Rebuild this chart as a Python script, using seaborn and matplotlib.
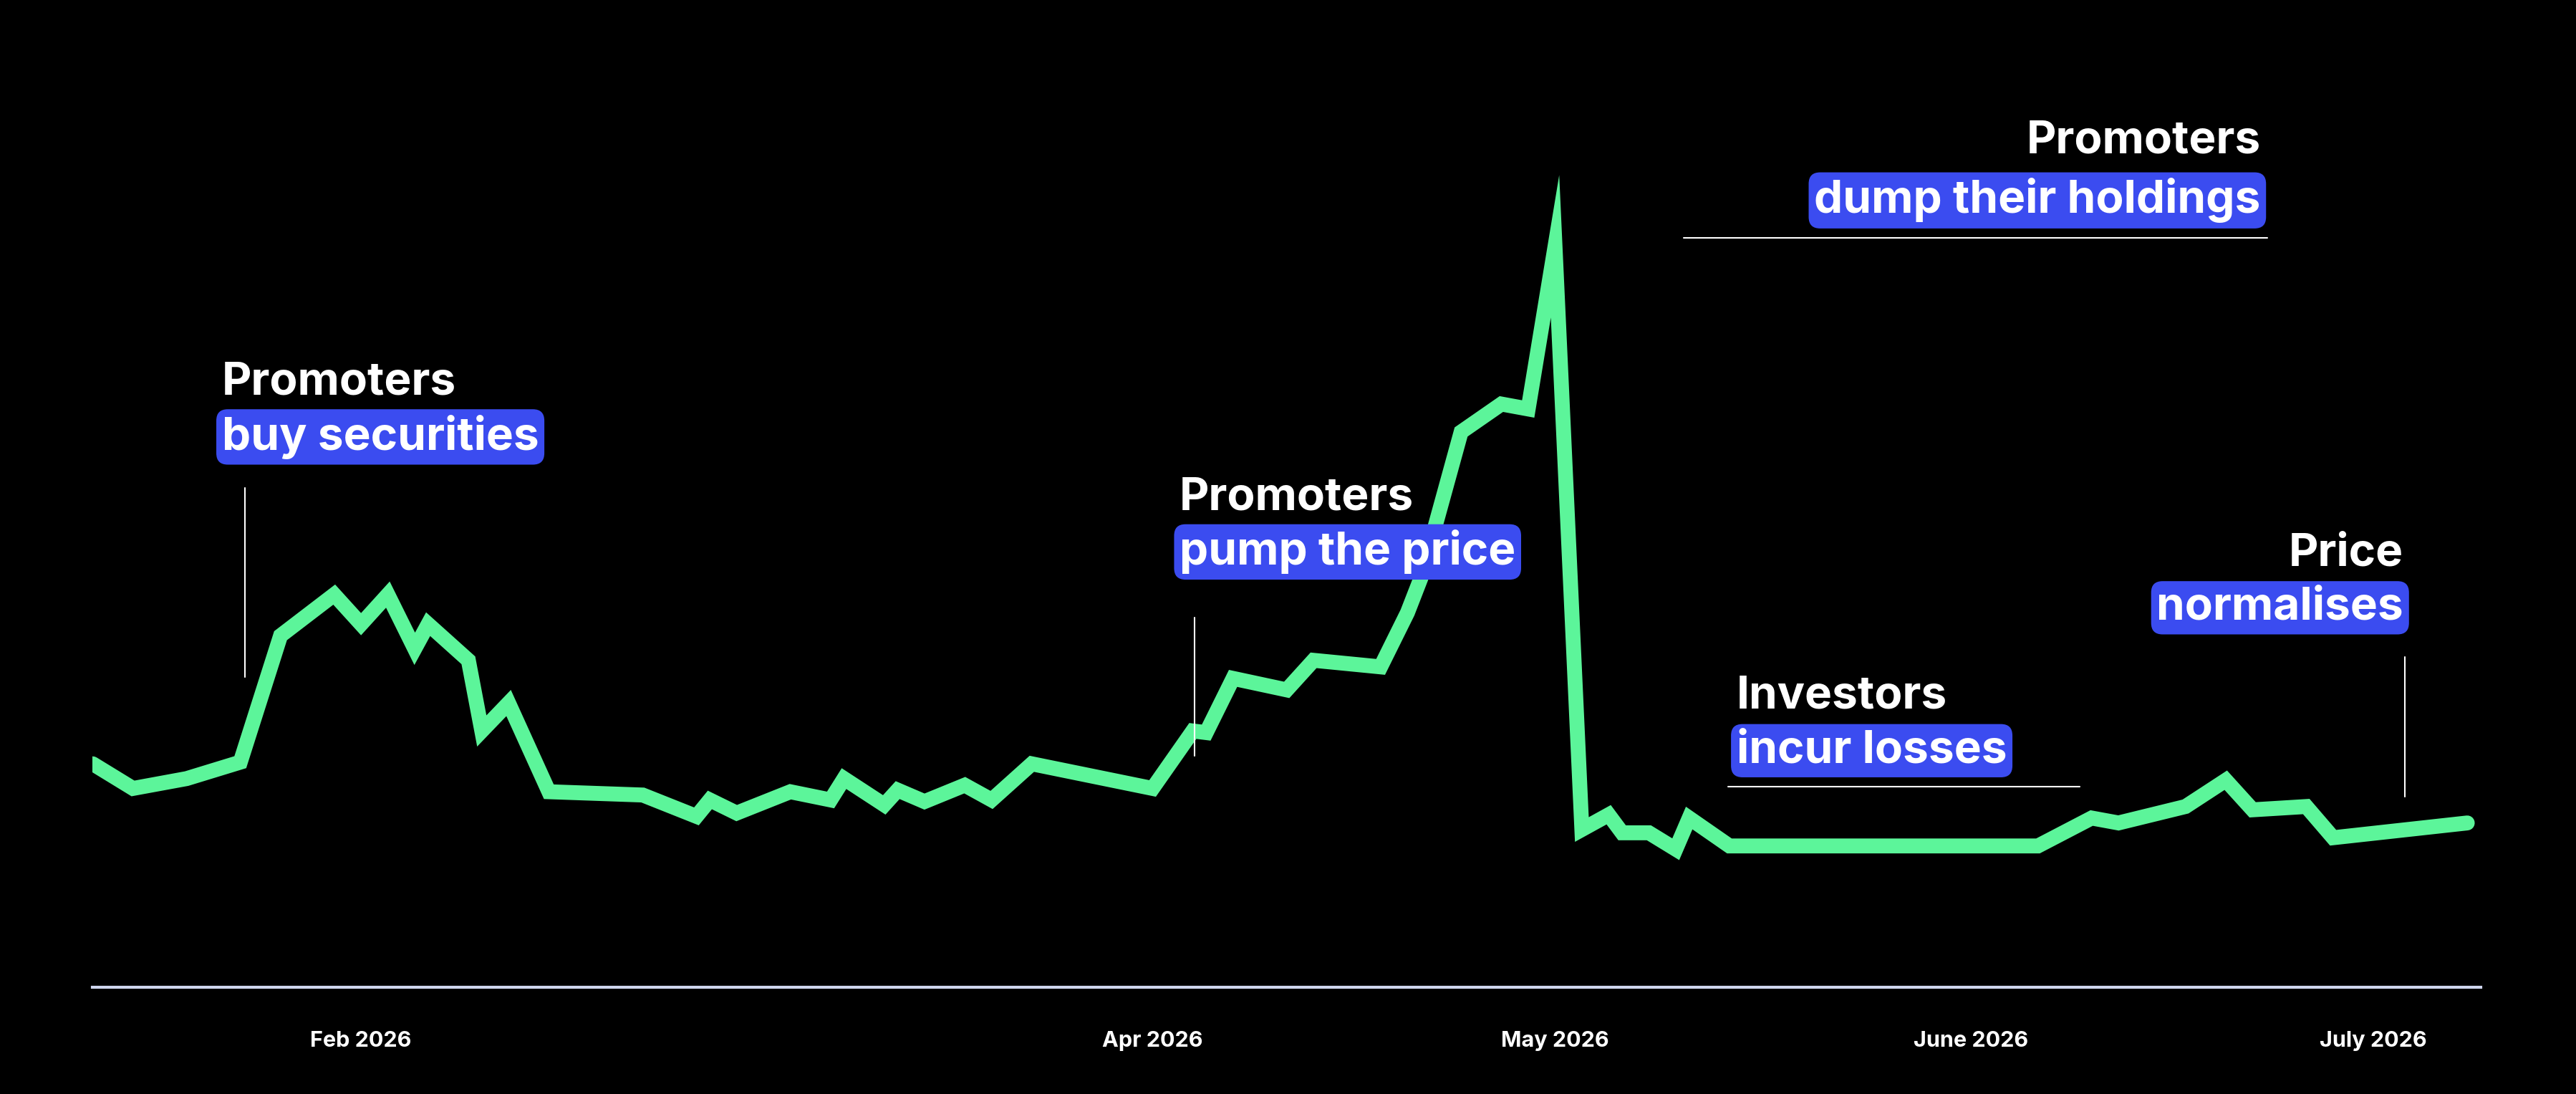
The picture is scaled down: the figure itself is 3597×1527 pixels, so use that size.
import matplotlib
matplotlib.use("Agg")
import matplotlib.pyplot as plt
import matplotlib.dates as mdates
import seaborn as sns
import pandas as pd

dates = ["2026-01-12", "2026-01-15", "2026-01-19", "2026-01-23", "2026-01-26", "2026-01-30",
         "2026-02-01", "2026-02-03", "2026-02-05", "2026-02-06", "2026-02-09", "2026-02-10",
         "2026-02-12", "2026-02-15", "2026-02-22", "2026-02-26", "2026-02-27", "2026-03-01",
         "2026-03-05", "2026-03-08", "2026-03-09", "2026-03-12", "2026-03-13", "2026-03-15",
         "2026-03-18", "2026-03-20", "2026-03-23", "2026-04-01", "2026-04-04", "2026-04-05",
         "2026-04-07", "2026-04-11", "2026-04-13", "2026-04-18", "2026-04-20", "2026-04-21",
         "2026-04-24", "2026-04-27", "2026-04-29", "2026-05-01", "2026-05-03", "2026-05-05",
         "2026-05-06", "2026-05-08", "2026-05-10", "2026-05-11", "2026-05-14", "2026-06-06",
         "2026-06-10", "2026-06-12", "2026-06-17", "2026-06-20", "2026-06-22", "2026-06-26",
         "2026-06-28", "2026-07-08"]
price = [13.6, 12.1, 12.7, 13.7, 21.4, 23.9, 22.1, 23.9, 20.6, 22.1, 19.9, 15.6,
         17.3, 11.9, 11.7, 10.4, 11.4, 10.6, 11.9, 11.4, 12.7, 11.1, 12.0, 11.3,
         12.3, 11.4, 13.6, 12.1, 15.6, 15.5, 18.8, 18.1, 19.9, 19.5, 22.8, 24.9,
         33.8, 35.5, 35.2, 45.1, 9.6, 10.5, 9.4, 9.4, 8.4, 10.3, 8.6, 8.6,
         10.3, 10.0, 11.0, 12.6, 10.8, 11.0, 9.1, 10.0]
tick_dates = ["2026-02-01", "2026-04-01", "2026-05-01", "2026-06-01", "2026-07-01"]
tick_labels = ["Feb 2026", "Apr 2026", "May 2026", "June 2026", "July 2026"]

df = pd.DataFrame({"date": pd.to_datetime(dates), "price": price})

sns.set_theme(style="dark")
plt.rcParams["font.family"] = ["Inter", "DejaVu Sans"]

fig = plt.figure(figsize=(35.97, 15.27), dpi=100, facecolor="black")
ax = fig.add_axes([0.036, 0.0976, 0.927, 0.8274])
ax.set_facecolor("black")
sns.lineplot(x="date", y="price", data=df, ax=ax, color="#5cf59a", linewidth=15,
             solid_joinstyle="miter")

ax.set_ylim(0, 55.1)
ax.set_xlim(pd.Timestamp("2026-01-12"), pd.Timestamp("2026-07-09"))
ax.set_yticks([])
ax.set_xticks(pd.to_datetime(tick_dates))
ax.set_xticklabels(tick_labels, color="white", fontsize=22, fontweight="bold")
ax.tick_params(axis="x", direction="inout", length=60, width=1.5, color="#cfd6ee", pad=14)
ax.set_xlabel("")
ax.set_ylabel("")
for s in ["top", "right", "left"]:
    ax.spines[s].set_visible(False)
ax.spines["bottom"].set_color("#cfd6ee")
ax.spines["bottom"].set_linewidth(3)
ax.grid(False)

W, H = 1568, 666
box = dict(boxstyle="round,pad=0.12,rounding_size=0.25", fc="#3b4cf0", ec="none")


def fx(x):
    return x / W


def fy(y):
    return 1 - y / H


def label(x, y_title, y_box, title, sub, ha="left"):
    fig.text(fx(x), fy(y_title), title, color="white", fontsize=46, fontweight="bold",
             ha=ha, va="center")
    fig.text(fx(x), fy(y_box), sub, color="white", fontsize=46, fontweight="bold",
             ha=ha, va="center", bbox=box)


def vline(x, y0, y1):
    fig.add_artist(plt.Line2D([fx(x), fx(x)], [fy(y0), fy(y1)], color="white", lw=1.5))


def hline(y, x0, x1):
    fig.add_artist(plt.Line2D([fx(x0), fx(x1)], [fy(y), fy(y)], color="white", lw=1.5))


label(135, 233, 266, "Promoters", "buy securities")
vline(149, 297, 412)
label(718, 303, 336, "Promoters", "pump the price")
vline(727, 376, 460)
label(1376, 86, 122, "Promoters", "dump their holdings", ha="right")
hline(145, 1025, 1380)
label(1057, 424, 457, "Investors", "incur losses")
hline(479, 1052, 1266)
label(1463, 337, 370, "Price", "normalises", ha="right")
vline(1464, 400, 485)

fig.savefig("out.png", dpi=100, facecolor="black")
